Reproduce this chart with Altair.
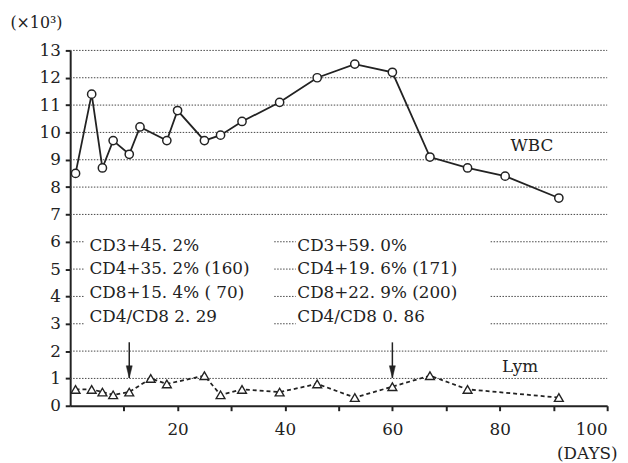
import altair as alt
import pandas as pd

FONT = "DejaVu Serif"
INK = "#222222"

# WBC series (x10^3)
wbc_days = [1, 4, 6, 8, 11, 13, 18, 20, 25, 28, 32, 39, 46, 53, 60, 67, 74, 81, 91]
wbc_vals = [8.5, 11.4, 8.7, 9.7, 9.2, 10.2, 9.7, 10.8, 9.7, 9.9, 10.4, 11.1, 12.0, 12.5, 12.2, 9.1, 8.7, 8.4, 7.6]

# Lymphocyte series (x10^3)
lym_days = [1, 4, 6, 8, 11, 15, 18, 25, 28, 32, 39, 46, 53, 60, 67, 74, 91]
lym_vals = [0.6, 0.6, 0.5, 0.4, 0.5, 1.0, 0.8, 1.1, 0.4, 0.6, 0.5, 0.8, 0.3, 0.7, 1.1, 0.6, 0.3]

# arrows marking sampling days
arrow_days = [11, 60]
arrow_top = [2.32, 2.32]
arrow_tip = [1.02, 1.02]

# annotation text blocks
block1 = ["CD3+45. 2%", "CD4+35. 2%  (160)", "CD8+15. 4%  ( 70)", "CD4/CD8  2. 29"]
block2 = ["CD3+59. 0%", "CD4+19. 6%  (171)", "CD8+22. 9%  (200)", "CD4/CD8  0. 86"]
block_rows = [5.86, 4.99, 4.13, 3.26]
block_x = [3.6, 42.3]

series_labels = ["WBC", "Lym"]
series_label_x = [82.0, 80.4]
series_label_y = [9.5, 1.42]

# dotted guide lines (broken around the text blocks)
full_rows = [1, 2, 7, 8, 9, 10, 11, 12, 13]
broken_rows = [3, 4, 5, 6]
broken_segments = [(0, 2.7), (38.0, 42.0), (78.3, 100)]

grid_rows = []
for r in full_rows:
    grid_rows.append({"y": r, "x0": 0, "x1": 100})
for r in broken_rows:
    for a, b in broken_segments:
        grid_rows.append({"y": r, "x0": a, "x1": b})
grid_df = pd.DataFrame(grid_rows)

wbc_df = pd.DataFrame({"day": wbc_days, "v": wbc_vals})
lym_df = pd.DataFrame({"day": lym_days, "v": lym_vals})
arrow_df = pd.DataFrame({"day": arrow_days, "top": arrow_top, "tip": arrow_tip})
text_rows = []
for bx, blk in zip(block_x, [block1, block2]):
    for yy, t in zip(block_rows, blk):
        text_rows.append({"x": bx, "y": yy, "t": t})
for t, xx, yy in zip(series_labels, series_label_x, series_label_y):
    text_rows.append({"x": xx, "y": yy, "t": t})
text_df = pd.DataFrame(text_rows)

xs = alt.Scale(domain=[0, 100], nice=False, zero=False)
ys = alt.Scale(domain=[0, 13], nice=False)

xaxis = alt.Axis(
    values=list(range(10, 101, 10)),
    labelExpr="datum.value % 20 == 0 ? datum.label : ''",
    labelOverlap=False,
    title="(DAYS)", titleX=554, titleY=48, titleAlign="right", titleBaseline="middle",
    titleFont=FONT, titleFontSize=17, titleFontWeight="normal", titleColor=INK,
    labelPadding=11,
)
yaxis = alt.Axis(
    values=list(range(0, 14)),
    labelOverlap=False,
    title="(×10³)", titleAngle=0, titleX=-61, titleY=-28, titleAlign="left",
    titleBaseline="middle", titleFont=FONT, titleFontSize=16, titleFontWeight="normal",
    titleColor=INK, labelPadding=5,
)


def X(field):
    return alt.X(field, scale=xs, axis=xaxis)


def Y(field):
    return alt.Y(field, scale=ys, axis=yaxis)


grid = alt.Chart(grid_df).mark_rule(strokeDash=[1.5, 1.5], color="#444444", strokeWidth=1).encode(
    x=X("x0:Q"), x2="x1:Q", y=Y("y:Q"),
)

wbc_line = alt.Chart(wbc_df).mark_line(color=INK, strokeWidth=1.8).encode(x=X("day:Q"), y=Y("v:Q"))
wbc_pts = alt.Chart(wbc_df).mark_point(
    shape="circle", filled=True, fill="white", stroke=INK, strokeWidth=1.5, size=70, opacity=1
).encode(x=X("day:Q"), y=Y("v:Q"))

lym_line = alt.Chart(lym_df).mark_line(color=INK, strokeWidth=1.8, strokeDash=[4, 3]).encode(
    x=X("day:Q"), y=Y("v:Q")
)
lym_pts = alt.Chart(lym_df).mark_point(
    shape="triangle-up", filled=True, fill="white", stroke=INK, strokeWidth=1.4, size=80, opacity=1
).encode(x=X("day:Q"), y=Y("v:Q"))

arrow_shaft = alt.Chart(arrow_df).mark_rule(color=INK, strokeWidth=1.5).encode(
    x=X("day:Q"), y=Y("top:Q"), y2="tip:Q"
)
arrow_head = alt.Chart(arrow_df).mark_point(
    shape="M-0.25,-1L0.25,-1L0,0Z", filled=True, fill=INK, stroke=INK, strokeWidth=0.5,
    size=600, opacity=1
).encode(x=X("day:Q"), y=Y("tip:Q"))

texts = alt.Chart(text_df).mark_text(
    align="left", baseline="middle", font=FONT, fontSize=17, color=INK
).encode(x=X("x:Q"), y=Y("y:Q"), text="t:N")

chart = alt.layer(
    grid, lym_line, wbc_line, arrow_shaft, arrow_head, wbc_pts, lym_pts, texts
).properties(
    width=544, height=360,
    autosize=alt.AutoSizeParams(type="none"),
    padding={"left": 63, "top": 40, "right": 13, "bottom": 54},
    background="white",
).configure_view(stroke=None).configure_axis(
    domainColor=INK, domainWidth=2, tickColor=INK, tickWidth=2, tickSize=5,
    labelFont=FONT, labelFontSize=17, labelColor=INK, grid=False,
)

chart.save("out.html", embed_options={"renderer": "svg", "actions": False})
